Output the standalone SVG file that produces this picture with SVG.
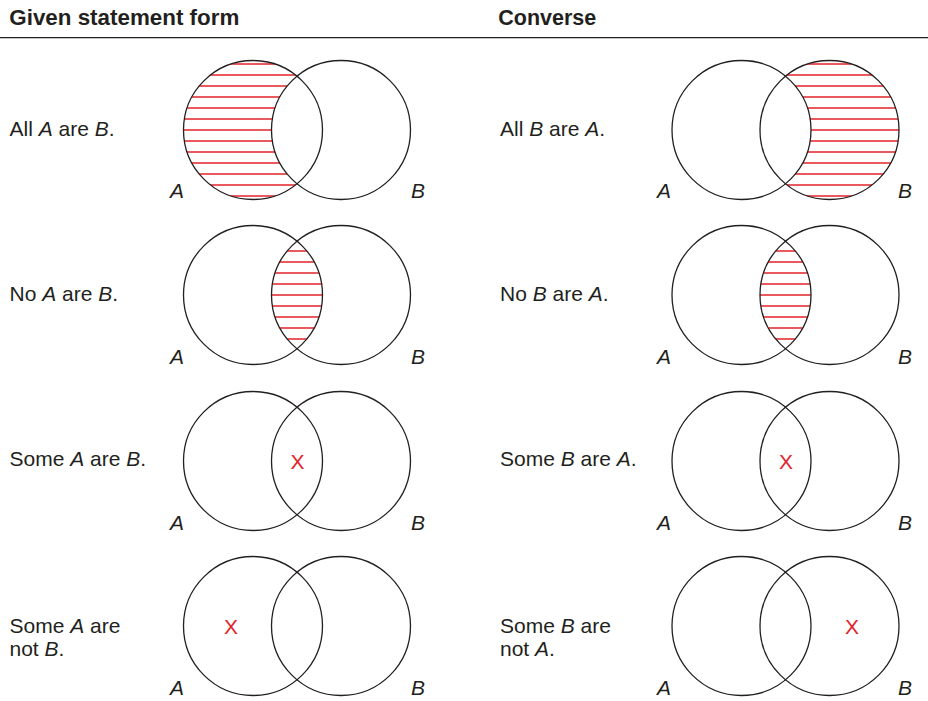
<svg xmlns="http://www.w3.org/2000/svg" width="928" height="701" viewBox="0 0 928 701">
<style>
  .hdr{font-family:"Liberation Sans",Arial,sans-serif;font-weight:bold;font-size:22px;fill:#231f20}
  .txt{font-family:"Liberation Sans",Arial,sans-serif;font-size:21px;fill:#231f20}
  .lbl{font-family:"Liberation Sans",Arial,sans-serif;font-size:21px;font-style:italic;fill:#231f20}
  .it{font-style:italic}
  .c{fill:none;stroke:#231f20;stroke-width:1.3}
  .hl line{stroke:#e2232a;stroke-width:1.5}
  .x{font-family:"Liberation Sans",Arial,sans-serif;font-size:21px;fill:#e2232a;text-anchor:middle}
</style>
<defs>
  <clipPath id="clipAnotB"><path d="M297,76.2 A69.5,69.5 0 1 0 297,183.8 A69.5,69.5 0 0 1 297,76.2 Z"/></clipPath>
  <clipPath id="clipBnotA"><path d="M785.5,76.2 A69.5,69.5 0 1 1 785.5,183.8 A69.5,69.5 0 0 0 785.5,76.2 Z"/></clipPath>
  <clipPath id="clipLensL"><path d="M297,241.2 A69.5,69.5 0 0 1 297,348.8 A69.5,69.5 0 0 1 297,241.2 Z"/></clipPath>
  <clipPath id="clipLensR"><path d="M785.5,241.2 A69.5,69.5 0 0 1 785.5,348.8 A69.5,69.5 0 0 1 785.5,241.2 Z"/></clipPath>
</defs>
<rect width="928" height="701" fill="#ffffff"/>
<g id="header">
  <text class="hdr" x="9.3" y="25" textLength="230" lengthAdjust="spacingAndGlyphs">Given statement form</text>
  <text class="hdr" x="498.3" y="25" textLength="98" lengthAdjust="spacingAndGlyphs">Converse</text>
  <line x1="0" y1="37.7" x2="928" y2="37.7" stroke="#231f20" stroke-width="1.3"/>
</g>

<!-- Row 1 -->
<g id="given-all">
  <text class="txt" x="9.5" y="136">All <tspan class="it">A</tspan> are <tspan class="it">B</tspan>.</text>
  <g class="hl" clip-path="url(#clipAnotB)">
    <line x1="180" y1="64" x2="300" y2="64"/>
    <line x1="180" y1="75" x2="300" y2="75"/>
    <line x1="180" y1="86" x2="300" y2="86"/>
    <line x1="180" y1="97" x2="300" y2="97"/>
    <line x1="180" y1="108" x2="300" y2="108"/>
    <line x1="180" y1="119" x2="300" y2="119"/>
    <line x1="180" y1="130" x2="300" y2="130"/>
    <line x1="180" y1="141" x2="300" y2="141"/>
    <line x1="180" y1="152" x2="300" y2="152"/>
    <line x1="180" y1="163" x2="300" y2="163"/>
    <line x1="180" y1="174" x2="300" y2="174"/>
    <line x1="180" y1="185" x2="300" y2="185"/>
    <line x1="180" y1="196" x2="300" y2="196"/>
  </g>
  <circle class="c" cx="253" cy="130" r="69.5"/>
  <circle class="c" cx="341" cy="130" r="69.5"/>
  <text class="lbl" x="170" y="198">A</text>
  <text class="lbl" x="411" y="198">B</text>
</g>
<g id="converse-all">
  <text class="txt" x="500" y="136">All <tspan class="it">B</tspan> are <tspan class="it">A</tspan>.</text>
  <g class="hl" clip-path="url(#clipBnotA)">
    <line x1="780" y1="64" x2="902" y2="64"/>
    <line x1="780" y1="75" x2="902" y2="75"/>
    <line x1="780" y1="86" x2="902" y2="86"/>
    <line x1="780" y1="97" x2="902" y2="97"/>
    <line x1="780" y1="108" x2="902" y2="108"/>
    <line x1="780" y1="119" x2="902" y2="119"/>
    <line x1="780" y1="130" x2="902" y2="130"/>
    <line x1="780" y1="141" x2="902" y2="141"/>
    <line x1="780" y1="152" x2="902" y2="152"/>
    <line x1="780" y1="163" x2="902" y2="163"/>
    <line x1="780" y1="174" x2="902" y2="174"/>
    <line x1="780" y1="185" x2="902" y2="185"/>
    <line x1="780" y1="196" x2="902" y2="196"/>
  </g>
  <circle class="c" cx="741.5" cy="130" r="69.5"/>
  <circle class="c" cx="829.5" cy="130" r="69.5"/>
  <text class="lbl" x="657" y="198">A</text>
  <text class="lbl" x="898" y="198">B</text>
</g>

<!-- Row 2 -->
<g id="given-no">
  <text class="txt" x="9.5" y="301">No <tspan class="it">A</tspan> are <tspan class="it">B</tspan>.</text>
  <g class="hl" clip-path="url(#clipLensL)">
    <line x1="268" y1="251" x2="326" y2="251"/>
    <line x1="268" y1="262" x2="326" y2="262"/>
    <line x1="268" y1="273" x2="326" y2="273"/>
    <line x1="268" y1="284" x2="326" y2="284"/>
    <line x1="268" y1="295" x2="326" y2="295"/>
    <line x1="268" y1="306" x2="326" y2="306"/>
    <line x1="268" y1="317" x2="326" y2="317"/>
    <line x1="268" y1="328" x2="326" y2="328"/>
    <line x1="268" y1="339" x2="326" y2="339"/>
  </g>
  <circle class="c" cx="253" cy="295" r="69.5"/>
  <circle class="c" cx="341" cy="295" r="69.5"/>
  <text class="lbl" x="170" y="364">A</text>
  <text class="lbl" x="411" y="364">B</text>
</g>
<g id="converse-no">
  <text class="txt" x="500" y="301">No <tspan class="it">B</tspan> are <tspan class="it">A</tspan>.</text>
  <g class="hl" clip-path="url(#clipLensR)">
    <line x1="756" y1="251" x2="815" y2="251"/>
    <line x1="756" y1="262" x2="815" y2="262"/>
    <line x1="756" y1="273" x2="815" y2="273"/>
    <line x1="756" y1="284" x2="815" y2="284"/>
    <line x1="756" y1="295" x2="815" y2="295"/>
    <line x1="756" y1="306" x2="815" y2="306"/>
    <line x1="756" y1="317" x2="815" y2="317"/>
    <line x1="756" y1="328" x2="815" y2="328"/>
    <line x1="756" y1="339" x2="815" y2="339"/>
  </g>
  <circle class="c" cx="741.5" cy="295" r="69.5"/>
  <circle class="c" cx="829.5" cy="295" r="69.5"/>
  <text class="lbl" x="657" y="364">A</text>
  <text class="lbl" x="898" y="364">B</text>
</g>

<!-- Row 3 -->
<g id="given-some">
  <text class="txt" x="9.5" y="466">Some <tspan class="it">A</tspan> are <tspan class="it">B</tspan>.</text>
  <circle class="c" cx="253" cy="461" r="69.5"/>
  <circle class="c" cx="341" cy="461" r="69.5"/>
  <text class="x" x="297.5" y="469">X</text>
  <text class="lbl" x="170" y="530">A</text>
  <text class="lbl" x="411" y="530">B</text>
</g>
<g id="converse-some">
  <text class="txt" x="500" y="466">Some <tspan class="it">B</tspan> are <tspan class="it">A</tspan>.</text>
  <circle class="c" cx="741.5" cy="461" r="69.5"/>
  <circle class="c" cx="829.5" cy="461" r="69.5"/>
  <text class="x" x="786" y="469">X</text>
  <text class="lbl" x="657" y="530">A</text>
  <text class="lbl" x="898" y="530">B</text>
</g>

<!-- Row 4 -->
<g id="given-some-not">
  <text class="txt" x="9.5" y="633">Some <tspan class="it">A</tspan> are</text>
  <text class="txt" x="9.5" y="656">not <tspan class="it">B</tspan>.</text>
  <circle class="c" cx="253" cy="626" r="69.5"/>
  <circle class="c" cx="341" cy="626" r="69.5"/>
  <text class="x" x="231" y="634">X</text>
  <text class="lbl" x="170" y="695">A</text>
  <text class="lbl" x="411" y="695">B</text>
</g>
<g id="converse-some-not">
  <text class="txt" x="500" y="633">Some <tspan class="it">B</tspan> are</text>
  <text class="txt" x="500" y="656">not <tspan class="it">A</tspan>.</text>
  <circle class="c" cx="741.5" cy="626" r="69.5"/>
  <circle class="c" cx="829.5" cy="626" r="69.5"/>
  <text class="x" x="852" y="634">X</text>
  <text class="lbl" x="657" y="695">A</text>
  <text class="lbl" x="898" y="695">B</text>
</g>
<g id="connectors"></g>
</svg>
